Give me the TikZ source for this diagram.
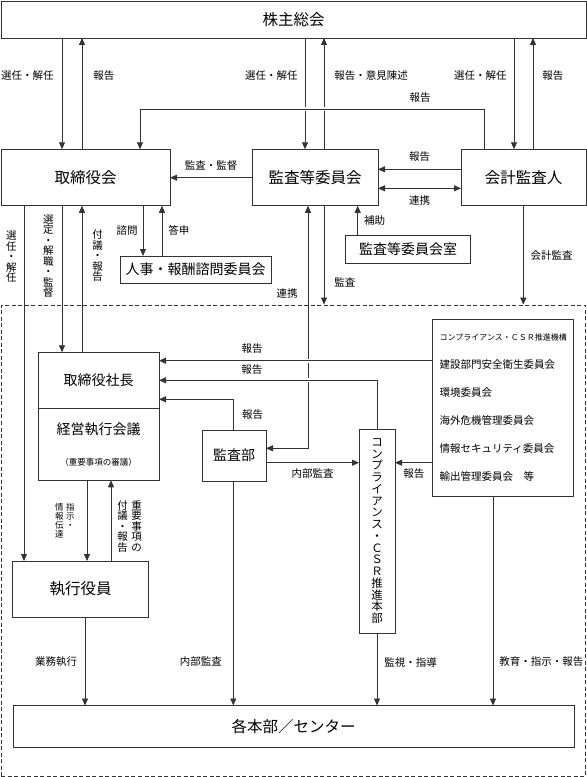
\documentclass[tikz,border=0pt]{standalone}
\usepackage{fontspec}
\setmainfont{Noto Sans CJK JP}
\usetikzlibrary{arrows.meta,positioning}

\newcommand\bigfont{\fontsize{15.5bp}{18bp}\selectfont}
\newcommand\midfont{\fontsize{14bp}{16bp}\selectfont}
\newcommand\labfont{\fontsize{10.5bp}{10.5bp}\selectfont}
\newcommand\smallfont{\fontsize{8.5bp}{8.8bp}\selectfont}

\begin{document}
\begin{tikzpicture}[
		x=1bp, y=-1bp,
		color=black!80, line width=0.8bp,
		>={Triangle[length=7bp,width=6bp]},
		every node/.style = {text=black},
		box/.style = {draw, rectangle, inner sep=0pt, outer sep=0pt},
		lab/.style = {font=\labfont, inner sep=1bp},
		vlab/.style = {font=\labfont, inner sep=1bp, align=center},
		vsmall/.style = {font=\smallfont, inner sep=1bp, align=center},
		gap/.style = {preaction={draw=white, line width=4bp, -, shorten <=4bp, shorten >=4bp}},
		waku/.style = {draw, dash pattern=on 4bp off 2.5bp, inner sep=0pt}
	]
	\useasboundingbox (0,0) rectangle (587,777);
	\node[waku, minimum width=584bp, minimum height=471bp] (waku) at (293.5,540.5) {};

	\node[box, font=\bigfont, minimum width=585bp, minimum height=37bp] (kabu) at (293.5,19.5) {株主総会};
	\node[box, font=\bigfont, minimum width=169bp, minimum height=56.5bp] (torikai) at (85.5,177.5) {取締役会};
	\node[box, font=\bigfont, minimum width=126bp, minimum height=56.5bp] (kansaiin) at (315,177.5) {監査等委員会};
	\node[box, font=\bigfont, minimum width=125bp, minimum height=56.5bp] (kaikei) at (523.5,177.5) {会計監査人};
	\node[box, font=\midfont, minimum width=125bp, minimum height=28bp] (kansashitsu) at (408,249.5) {監査等委員会室};
	\node[box, font=\midfont, minimum width=151bp, minimum height=27bp] (jinji) at (195.5,269.5) {人事・報酬諮問委員会};
	\node[box, font=\midfont, minimum width=121bp, minimum height=56bp] (shacho) at (98.5,380.3) {取締役社長};
	\node[box, font=\midfont, align=center, minimum width=121bp, minimum height=72bp, below=0pt of shacho] (keiei) {経営執行会議\\[15bp]{\smallfont （重要事項の審議）}};
	\node[box, font=\midfont, minimum width=64bp, minimum height=51bp] (kansabu) at (234,455.5) {監査部};
	\node[box, align=center, font=\fontsize{11.5bp}{11.75bp}\selectfont, minimum width=36bp, minimum height=204bp] (csr) at (377,531) {コ\\ン\\プ\\ラ\\イ\\ア\\ン\\ス\\・\\Ｃ\\Ｓ\\Ｒ\\推\\進\\本\\部};
	\node[box, align=left, font=\fontsize{10.5bp}{28bp}\selectfont, minimum width=141bp, minimum height=177.4bp] (list) at (503.2,408) {{\fontsize{8bp}{28bp}\selectfont コンプライアンス・ＣＳＲ推進機構}\\建設部門安全衛生委員会\\環境委員会\\海外危機管理委員会\\情報セキュリティ委員会\\輸出管理委員会　等};
	\node[box, font=\bigfont, minimum width=136bp, minimum height=56bp] (shikko) at (80.5,589) {執行役員};
	\node[box, font=\bigfont, minimum width=561bp, minimum height=42bp] (kakuhon) at (293.5,726.5) {各本部／センター};

	% 株主総会
	\draw[->] (kabu.south -| 62,0) -- node[lab, pos=0.34, left=7bp] {選任・解任} (torikai.north -| 62,0);
	\draw[->] (torikai.north -| 82,0) -- node[lab, pos=0.66, right=10bp] {報告} (kabu.south -| 82,0);
	\draw[->] (kabu.south -| 305,0) -- node[lab, pos=0.34, left=6bp] {選任・解任} (kansaiin.north -| 305,0);
	\draw[->] (kansaiin.north -| 324,0) -- node[lab, pos=0.66, right=9bp] {報告・意見陳述} (kabu.south -| 324,0);
	\draw[->] (kabu.south -| 514,0) -- node[lab, pos=0.34, left=6bp] {選任・解任} (kaikei.north -| 514,0);
	\draw[->] (kaikei.north -| 533,0) -- node[lab, pos=0.66, right=8bp] {報告} (kabu.south -| 533,0);
	\draw[->, gap] (kaikei.north -| 484,0) -- ++(0,-40) -| node[lab, pos=0.093, above=5bp] {報告} (torikai.north -| 140,0);

	% 取締役会・監査等委員会・会計監査人
	\draw[->] (kansaiin.west |- 0,177.7) -- node[lab, above=6bp] {監査・監督} (torikai.east |- 0,177.7);
	\draw[->] (kaikei.west |- 0,169.3) -- node[lab, above=6bp] {報告} (kansaiin.east |- 0,169.3);
	\draw[<->] (kansaiin.east |- 0,188.3) -- node[lab, below=6bp] {連携} (kaikei.west |- 0,188.3);
	\draw[->] (kansashitsu.north -| 357.7,0) -- node[lab, right=5bp] {補助} (kansaiin.south -| 357.7,0);
	\draw[->] (torikai.south -| 143,0) -- node[lab, left=4bp] {諮問} (jinji.north -| 143,0);
	\draw[->] (jinji.north -| 162,0) -- node[lab, right=5bp] {答申} (torikai.south -| 162,0);

	% 取締役会から執行側へ
	\draw[->] (torikai.south -| 24,0) -- node[vlab, pos=0.144, left=6bp] {選\\任\\・\\解\\任} (shikko.north -| 24,0);
	\draw[->] (torikai.south -| 62,0) -- node[vlab, pos=0.343, left=7bp] {選\\定\\・\\解\\職\\・\\監\\督} (shacho.north -| 62,0);
	\draw[->] (shacho.north -| 82,0) -- node[vlab, pos=0.657, right=9bp] {付\\議\\・\\報\\告} (torikai.south -| 82,0);

	% 監査
	\draw[<->] (kansaiin.south -| 308,0) |- node[lab, pos=0.18, left=9bp] {連携} (kansabu.east |- 0,448.3);
	\draw[->] (kansaiin.south -| 324,0) -- node[lab, pos=0.78, right=9bp] {監査} (waku.north -| 324,0);
	\draw[->] (kaikei.south -| 523.3,0) -- node[lab, right=6bp] {会計監査} (waku.north -| 523.3,0);

	% 取締役社長への報告
	\draw[->, gap] (list.west |- 0,360.7) -- node[lab, pos=0.66, above=5.5bp] {報告} (shacho.east |- 0,360.7);
	\draw[->, gap] (csr.north -| 377,0) |- node[lab, pos=0.787, above=4bp] {報告} (shacho.east |- 0,380.3);
	\draw[->] (kansabu.north -| 233.3,0) |- node[lab, pos=0.244, right=7.5bp] {報告} (shacho.east |- 0,399.3);
	\draw[->] (kansabu.east |- 0,462.7) -- node[lab, below=4.5bp] {内部監査} (csr.west |- 0,462.7);
	\draw[->] (list.west |- 0,462.7) -- node[lab, below=4.5bp] {報告} (csr.east |- 0,462.7);

	% 経営執行会議と執行役員
	\draw[->] (keiei.south -| 87,0) --
		node[vsmall, pos=0.27, anchor=north east, xshift=-11bp] {指\\示\\・}
		node[vsmall, pos=0.27, anchor=north east, xshift=-22bp] {情\\報\\伝\\達}
		(shikko.north -| 87,0);
	\draw[->] (shikko.north -| 111,0) --
		node[vlab, pos=0.77, anchor=north west, xshift=19bp] {重\\要\\事\\項\\の}
		node[vlab, pos=0.77, anchor=north west, xshift=5bp] {付\\議\\・\\報\\告}
		(keiei.south -| 111,0);

	% 各本部／センターへ
	\draw[->] (shikko.south -| 85,0) -- node[lab, left=6.5bp] {業務執行} (kakuhon.north -| 85,0);
	\draw[->] (kansabu.south -| 233.3,0) -- node[lab, pos=0.806, left=10bp] {内部監査} (kakuhon.north -| 233.3,0);
	\draw[->] (csr.south -| 377,0) -- node[lab, pos=0.4, right=6bp] {監視・指導} (kakuhon.north -| 377,0);
	\draw[->] (list.south -| 493,0) -- node[lab, pos=0.79, right=5bp] {教育・指示・報告} (kakuhon.north -| 493,0);
\end{tikzpicture}
\end{document}
